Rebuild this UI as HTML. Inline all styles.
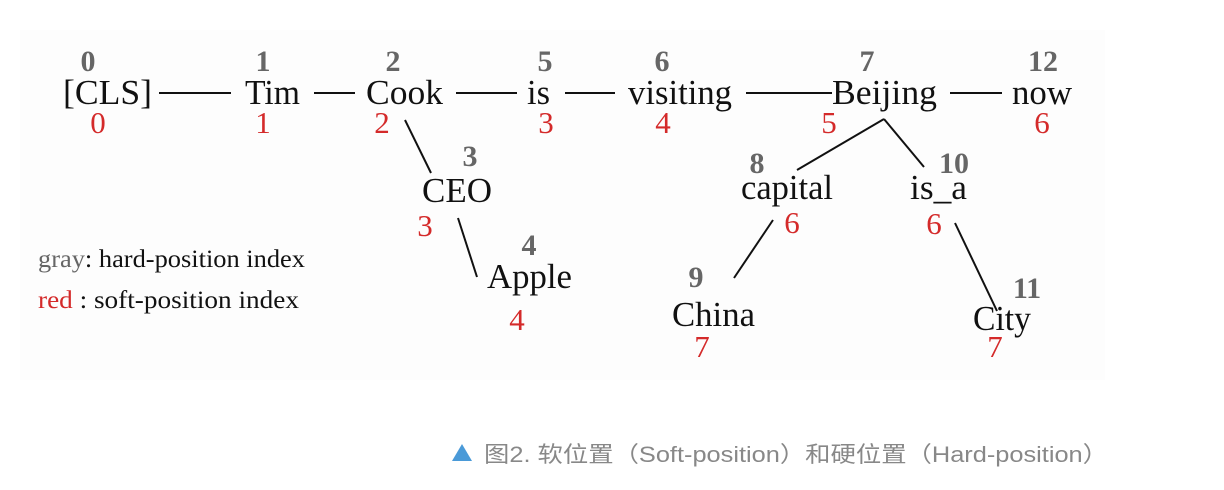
<!DOCTYPE html>
<html><head><meta charset="utf-8"><style>
html,body{margin:0;padding:0;background:#fff;width:1224px;height:490px;overflow:hidden}
svg{display:block}
.w{font-family:"Liberation Serif",serif;font-size:35px;fill:#111}
.g{font-family:"Liberation Serif",serif;font-size:30px;font-weight:bold;fill:#666;text-anchor:middle}
.r{font-family:"Liberation Serif",serif;font-size:31px;fill:#d42a2a;text-anchor:middle}
.l{font-family:"Liberation Serif",serif;font-size:25px;fill:#111}
line{stroke:#111;stroke-width:2}
</style></head><body>
<svg width="1224" height="490" viewBox="0 0 1224 490">
<rect x="20" y="30" width="1085" height="350" fill="#fdfdfd"/>
<g class="w" lengthAdjust="spacingAndGlyphs">
<text x="63" y="104" textLength="89" lengthAdjust="spacingAndGlyphs">[CLS]</text>
<text x="245" y="104" textLength="55" lengthAdjust="spacingAndGlyphs">Tim</text>
<text x="366" y="104" textLength="77" lengthAdjust="spacingAndGlyphs">Cook</text>
<text x="527" y="104" textLength="23" lengthAdjust="spacingAndGlyphs">is</text>
<text x="628" y="104" textLength="104" lengthAdjust="spacingAndGlyphs">visiting</text>
<text x="832" y="104" textLength="105" lengthAdjust="spacingAndGlyphs">Beijing</text>
<text x="1012" y="104" textLength="60" lengthAdjust="spacingAndGlyphs">now</text>
<text x="422" y="202" textLength="70" lengthAdjust="spacingAndGlyphs">CEO</text>
<text x="487" y="288" textLength="85" lengthAdjust="spacingAndGlyphs">Apple</text>
<text x="741" y="199" textLength="92" lengthAdjust="spacingAndGlyphs">capital</text>
<text x="910" y="199" textLength="57" lengthAdjust="spacingAndGlyphs">is_a</text>
<text x="672" y="326" textLength="83" lengthAdjust="spacingAndGlyphs">China</text>
<text x="973" y="330" textLength="58" lengthAdjust="spacingAndGlyphs">City</text>
</g>
<g class="g">
<text x="88" y="71">0</text><text x="263" y="71">1</text><text x="393" y="71">2</text>
<text x="545" y="71">5</text><text x="662" y="71">6</text><text x="867" y="71">7</text>
<text x="1043" y="71">12</text>
<text x="470" y="166">3</text><text x="529" y="255">4</text>
<text x="757" y="173">8</text><text x="954" y="173">10</text>
<text x="696" y="287">9</text><text x="1027" y="298">11</text>
</g>
<g class="r">
<text x="98" y="133">0</text><text x="263" y="133">1</text><text x="382" y="133">2</text>
<text x="546" y="133">3</text><text x="663" y="133">4</text><text x="829" y="133">5</text>
<text x="1042" y="133">6</text>
<text x="425" y="236">3</text><text x="517" y="330">4</text>
<text x="792" y="233">6</text><text x="934" y="234">6</text>
<text x="702" y="357">7</text><text x="995" y="357">7</text>
</g>
<line x1="159" y1="93" x2="231" y2="93"/>
<line x1="314" y1="93" x2="355" y2="93"/>
<line x1="456" y1="93" x2="517" y2="93"/>
<line x1="565" y1="93" x2="615" y2="93"/>
<line x1="746" y1="93" x2="832" y2="93"/>
<line x1="950" y1="93" x2="1002" y2="93"/>
<line x1="405" y1="120" x2="431" y2="173"/>
<line x1="458" y1="218" x2="477" y2="277"/>
<line x1="884" y1="119" x2="797" y2="170"/>
<line x1="884" y1="119" x2="924" y2="167"/>
<line x1="773" y1="220" x2="734" y2="278"/>
<line x1="955" y1="223" x2="997" y2="311"/>
<text class="l" x="38" y="267" textLength="267" lengthAdjust="spacingAndGlyphs"><tspan fill="#666">gray</tspan>: hard-position index</text>
<text class="l" x="38" y="308" textLength="261" lengthAdjust="spacingAndGlyphs"><tspan fill="#d42a2a">red</tspan>  : soft-position index</text>
<polygon points="462,444 452,461 472,461" fill="#4a9ad8"/>
<text x="484" y="462" font-family="'Liberation Sans','Noto Sans CJK SC',sans-serif" font-size="22" fill="#888" textLength="624" lengthAdjust="spacingAndGlyphs">图2. 软位置（Soft-position）和硬位置（Hard-position）</text>
</svg>
</body></html>
